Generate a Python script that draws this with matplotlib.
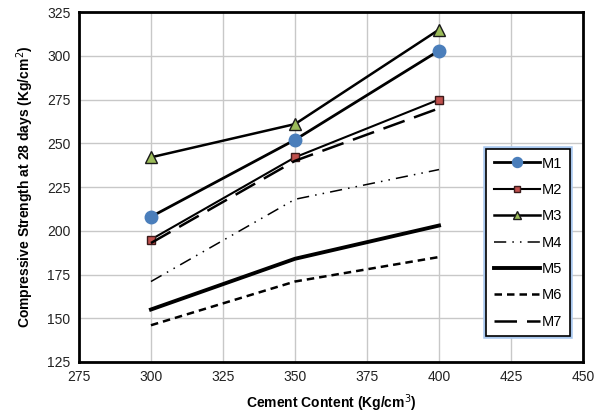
import matplotlib.pyplot as plt
import matplotlib.patheffects as pe

plt.rcParams['font.family'] = ['Liberation Sans', 'DejaVu Sans']

cement = [300, 350, 400]
m1 = [208, 252, 303]
m2 = [195, 242, 275]
m3 = [242, 261, 315]
m4 = [171, 218, 235]
m5 = [155, 184, 203]
m6 = [146, 171, 185]
m7 = [193, 240, 270]

fig = plt.figure(figsize=(5.98, 4.18), dpi=100)
ax = fig.add_axes([0.132, 0.134, 0.843, 0.837])

ax.plot(cement, m1, color='black', lw=2, marker='o', ms=9, mfc='#4a7ebb', mec='#4a7ebb', label='M1')
ax.plot(cement, m2, color='black', lw=1.5, marker='s', ms=6, mfc='#c0504d', mec='#3a1a1a', label='M2')
ax.plot(cement, m3, color='black', lw=1.8, marker='^', ms=8, mfc='#9bbb59', mec='#1a1a1a', label='M3')
ax.plot(cement, m4, color='black', lw=1.1, dashes=(8, 4, 1, 4, 1, 4), label='M4')
ax.plot(cement, m5, color='black', lw=2.8, label='M5')
ax.plot(cement, m6, color='black', lw=1.8, dashes=(3, 2), label='M6')
ax.plot(cement, m7, color='black', lw=1.8, dashes=(9, 4), label='M7')

ax.set_xlim(275, 450)
ax.set_ylim(125, 325)
ax.set_xticks(range(275, 451, 25))
ax.set_yticks(range(125, 326, 25))
ax.tick_params(length=0, labelsize=10, colors='#222222', pad=6)
ax.grid(True, color='#c8c8c8', lw=1)
ax.set_axisbelow(True)
for s in ax.spines.values():
    s.set_linewidth(2)
    s.set_color('black')

ax.set_xlabel('Cement Content (Kg/cm$^3$)', fontsize=10, fontweight='bold', labelpad=6)
ax.set_ylabel('Compressive Strength at 28 days (Kg/cm$^2$)', fontsize=10, fontweight='bold', labelpad=8)

leg = ax.legend(loc='upper left', bbox_to_anchor=(0.794, 0.629), fontsize=10.5,
                fancybox=False, framealpha=1, edgecolor='black',
                handlelength=3.2, handletextpad=0.1, labelspacing=0.85,
                borderpad=0.5, markerscale=0.8)
frame = leg.get_frame()
frame.set_linewidth(1.2)
frame.set_path_effects([pe.withStroke(linewidth=4, foreground='#a9c8ef')])

fig.savefig('out.png', dpi=100)
